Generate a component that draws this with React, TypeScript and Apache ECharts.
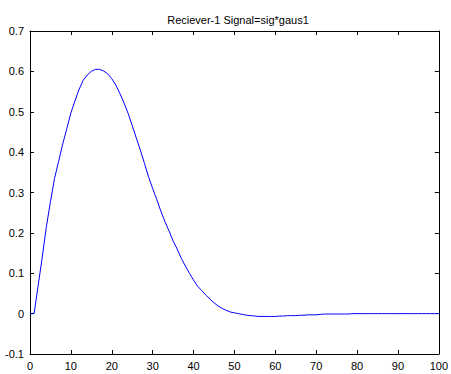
import React, { useEffect, useRef } from "react";
import * as echarts from "echarts";

const titleText = "Reciever-1 Signal=sig*gaus1";
const xValues: number[] = Array.from({ length: 101 }, (_, i) => i);
const signal: number[] = [
  0, 0, 0.07, 0.14, 0.215, 0.277, 0.335, 0.377, 0.42, 0.458,
  0.497, 0.527, 0.555, 0.578, 0.591, 0.6, 0.605, 0.605, 0.601, 0.594,
  0.582, 0.566, 0.545, 0.522, 0.496, 0.466, 0.435, 0.405, 0.372, 0.339,
  0.31, 0.283, 0.254, 0.228, 0.205, 0.18, 0.16, 0.137, 0.118, 0.1,
  0.083, 0.068, 0.057, 0.046, 0.036, 0.027, 0.019, 0.013, 0.008, 0.004,
  0.002, 0.0, -0.002, -0.004, -0.005, -0.006, -0.007, -0.007, -0.007, -0.007,
  -0.007, -0.006, -0.006, -0.005, -0.005, -0.005, -0.004, -0.004, -0.003, -0.003,
  -0.003, -0.002, -0.001, -0.001, -0.001, -0.001, -0.001, -0.001, -0.001, 0,
  0, 0, 0, 0, 0, 0, 0, 0, 0, 0,
  0, 0, 0, 0, 0, 0, 0, 0, 0, 0, 0,
];
const xMin = 0, xMax = 100, xStep = 10;
const yMin = -0.1, yMax = 0.7, yStep = 0.1;

const fmt = (v: number) => {
  const r = Math.round(v * 10) / 10;
  return r === 0 ? "0" : String(r);
};

export default function App() {
  const ref = useRef<HTMLDivElement>(null);
  useEffect(() => {
    if (!ref.current) return;
    const chart = echarts.init(ref.current, undefined, { renderer: "svg" });
    const font = "Liberation Sans";
    const axisLine = { show: true, onZero: false, lineStyle: { color: "#000", width: 1 } };
    const tick = { show: true, inside: true, length: 4, lineStyle: { color: "#000" } };
    chart.setOption({
      animation: false,
      backgroundColor: "#fff",
      title: {
        text: titleText,
        left: 233,
        top: 9,
        textAlign: "center",
        textStyle: { fontFamily: font, fontSize: 11, fontWeight: "normal", color: "#000" },
      },
      grid: { left: 30, right: 10, top: 31, bottom: 20, show: false },
      xAxis: [
        {
          type: "value", min: xMin, max: xMax, interval: xStep, position: "bottom",
          axisLine, axisTick: tick, splitLine: { show: false },
          axisLabel: { fontFamily: font, fontSize: 11, color: "#000", margin: 6 },
        },
        {
          type: "value", min: xMin, max: xMax, interval: xStep, position: "top",
          axisLine, axisTick: tick, splitLine: { show: false }, axisLabel: { show: false },
        },
      ],
      yAxis: [
        {
          type: "value", min: yMin, max: yMax, interval: yStep, position: "left",
          axisLine, axisTick: tick, splitLine: { show: false },
          axisLabel: { fontFamily: font, fontSize: 11, color: "#000", margin: 6, formatter: fmt },
        },
        {
          type: "value", min: yMin, max: yMax, interval: yStep, position: "right",
          axisLine, axisTick: tick, splitLine: { show: false }, axisLabel: { show: false },
        },
      ],
      series: [
        {
          type: "line",
          data: xValues.map((x, i) => [x, signal[i]]),
          showSymbol: false,
          lineStyle: { color: "#0000ff", width: 1 },
          itemStyle: { color: "#0000ff" },
        },
      ],
    });
    return () => chart.dispose();
  }, []);
  return (
    <div
      ref={ref}
      style={{ position: "fixed", left: 0, top: 0, width: 451, height: 374, background: "#fff" }}
    />
  );
}
